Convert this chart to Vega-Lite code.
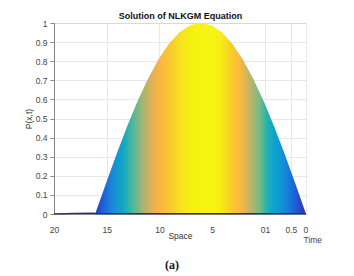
{
  "$schema": "https://vega.github.io/schema/vega-lite/v6.json",
  "width": 252,
  "height": 191,
  "autosize": "none",
  "padding": {"left": 54, "top": 23, "right": 48, "bottom": 62},
  "background": "white",
  "title": {"text": "(a)", "orient": "bottom", "font": "Liberation Serif", "fontSize": 12, "fontWeight": "bold", "color": "#111122", "offset": 16, "dx": -8},
  "config": {"view": {"stroke": null}, "axis": {"labelFont": "Liberation Sans", "titleFont": "Liberation Sans"}},
  "datasets": {
    "surface": [
      {"space": 16.1, "p": 0.0},
      {"space": 15.1, "p": 0.156},
      {"space": 14.1, "p": 0.309},
      {"space": 13.1, "p": 0.454},
      {"space": 12.1, "p": 0.588},
      {"space": 11.1, "p": 0.707},
      {"space": 10.1, "p": 0.809},
      {"space": 9.1, "p": 0.891},
      {"space": 8.1, "p": 0.951},
      {"space": 7.1, "p": 0.988},
      {"space": 6.1, "p": 1.0},
      {"space": 5.1, "p": 0.988},
      {"space": 4.1, "p": 0.951},
      {"space": 3.1, "p": 0.891},
      {"space": 2.1, "p": 0.809},
      {"space": 1.1, "p": 0.707},
      {"space": 0.1, "p": 0.588},
      {"space": -0.9, "p": 0.454},
      {"space": -1.9, "p": 0.309},
      {"space": -2.9, "p": 0.156},
      {"space": -3.89, "p": 0.0}
    ],
    "base": [
      {"space": 20, "p": 0.001},
      {"space": 18, "p": 0.003},
      {"space": 16.3, "p": 0.005},
      {"space": 16.0, "p": 0.002},
      {"space": -3.89, "p": 0.002}
    ]
  },
  "layer": [
    {
      "data": {"name": "surface"},
      "mark": {
        "type": "area",
        "fill": {
          "gradient": "linear", "x1": 0, "y1": 0, "x2": 1, "y2": 0,
          "stops": [
            {"offset": 0, "color": "#2040c8"},
            {"offset": 0.024, "color": "#1f52d8"},
            {"offset": 0.08, "color": "#1a88d8"},
            {"offset": 0.133, "color": "#10a8c4"},
            {"offset": 0.18, "color": "#50b898"},
            {"offset": 0.227, "color": "#a8b470"},
            {"offset": 0.275, "color": "#e8b050"},
            {"offset": 0.308, "color": "#fbb540"},
            {"offset": 0.355, "color": "#f8c830"},
            {"offset": 0.403, "color": "#f6e020"},
            {"offset": 0.45, "color": "#f6f010"},
            {"offset": 0.545, "color": "#f6f512"},
            {"offset": 0.592, "color": "#f6ef14"},
            {"offset": 0.64, "color": "#f8d028"},
            {"offset": 0.687, "color": "#fab83e"},
            {"offset": 0.735, "color": "#c0b468"},
            {"offset": 0.782, "color": "#70bc88"},
            {"offset": 0.815, "color": "#28b0b0"},
            {"offset": 0.844, "color": "#0ea6cc"},
            {"offset": 0.891, "color": "#1090d8"},
            {"offset": 0.938, "color": "#1b6ad8"},
            {"offset": 0.981, "color": "#2a40c8"},
            {"offset": 1, "color": "#3030b0"}
          ]
        }
      },
      "encoding": {
        "x": {
          "field": "space", "type": "quantitative",
          "scale": {"domain": [-3.89, 20], "reverse": true, "nice": false, "zero": false},
          "axis": {
            "orient": "bottom",
            "title": "Space",
            "values": [20, 15, 10, 5, 0, -2.46, -3.89],
            "labelExpr": "datum.value == 0 ? '01' : (datum.value < -3 ? ['0', 'Time'] : (datum.value < -2 ? '0.5' : datum.label))",
            "labelOverlap": false,
            "labelFontSize": 8.5,
            "labelColor": "#444444",
            "labelPadding": 15,
            "labelLineHeight": 10,
            "labelBaseline": "middle",
            "labelAlign": {"condition": {"test": "datum.value < -3", "value": "left"}, "value": "center"},
            "labelOffset": {"condition": {"test": "datum.value < -3", "value": -3}, "value": 0},
            "ticks": false,
            "domainColor": "#888888",
            "grid": true,
            "gridColor": "#e8e8e8",
            "titleFontSize": 8.5,
            "titleFontWeight": "normal",
            "titleColor": "#333333",
            "titleY": 21,
            "titleBaseline": "middle"
          }
        },
        "y": {
          "field": "p", "type": "quantitative", "stack": null,
          "scale": {"domain": [0, 1], "nice": false},
          "axis": {
            "title": "P(x,t)",
            "values": [0, 0.1, 0.2, 0.3, 0.4, 0.5, 0.6, 0.7, 0.8, 0.9, 1],
            "format": ".1~f",
            "labelFontSize": 8.5,
            "labelColor": "#444444",
            "labelPadding": 3,
            "labelOverlap": false,
            "tickSize": 4,
            "tickColor": "#888888",
            "domainColor": "#888888",
            "gridColor": "#e8e8e8",
            "titleFontSize": 8.5,
            "titleFontWeight": "normal",
            "titleColor": "#333333",
            "titlePadding": 2
          }
        }
      }
    },
    {
      "data": {"name": "base"},
      "mark": {"type": "line", "color": "#2b2a80", "strokeWidth": 1.2},
      "encoding": {
        "x": {
          "field": "space", "type": "quantitative",
          "scale": {"domain": [-3.89, 20], "reverse": true, "nice": false, "zero": false},
          "axis": {
            "orient": "top",
            "title": "Solution of NLKGM Equation",
            "labels": false,
            "ticks": false,
            "grid": false,
            "domainColor": "#d8d8d8",
            "titleFontSize": 9,
            "titleFontWeight": "bold",
            "titleColor": "#111111",
            "titlePadding": 3
          }
        },
        "y": {
          "field": "p", "type": "quantitative",
          "scale": {"domain": [0, 1], "nice": false},
          "axis": {
            "title": "P(x,t)",
            "values": [0, 0.1, 0.2, 0.3, 0.4, 0.5, 0.6, 0.7, 0.8, 0.9, 1],
            "format": ".1~f",
            "labelFontSize": 8.5,
            "labelColor": "#444444",
            "labelPadding": 3,
            "labelOverlap": false,
            "tickSize": 4,
            "tickColor": "#888888",
            "domainColor": "#888888",
            "gridColor": "#e8e8e8",
            "titleFontSize": 8.5,
            "titleFontWeight": "normal",
            "titleColor": "#333333",
            "titlePadding": 2
          }
        }
      }
    }
  ],
  "resolve": {"axis": {"x": "independent"}}
}
